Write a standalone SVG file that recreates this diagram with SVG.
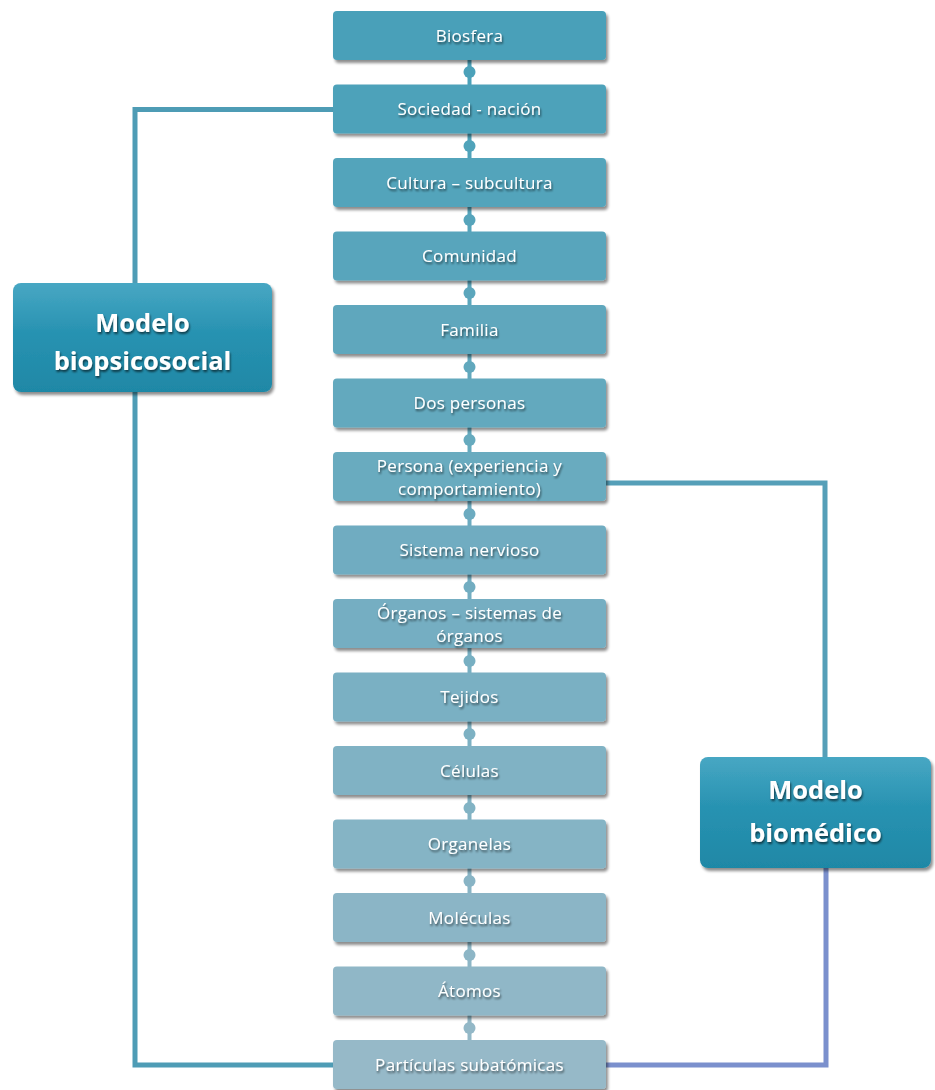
<svg xmlns="http://www.w3.org/2000/svg" width="935" height="1090" viewBox="0 0 935 1090">
<defs>
<filter id="shadow" x="-10%" y="-10%" width="125%" height="135%">
<feGaussianBlur in="SourceAlpha" stdDeviation="1.5"/>
<feOffset dx="1.5" dy="2.5" result="b"/>
<feComponentTransfer><feFuncA type="linear" slope="0.45"/></feComponentTransfer>
<feMerge><feMergeNode/><feMergeNode in="SourceGraphic"/></feMerge>
</filter>
<filter id="tshadow" x="-10%" y="-30%" width="120%" height="160%">
<feGaussianBlur in="SourceAlpha" stdDeviation="0.8"/>
<feOffset dx="1" dy="1.5"/>
<feComponentTransfer><feFuncA type="linear" slope="0.6"/></feComponentTransfer>
<feMerge><feMergeNode/><feMergeNode in="SourceGraphic"/></feMerge>
</filter>
<linearGradient id="modelGrad" x1="0" y1="0" x2="0" y2="1">
<stop offset="0" stop-color="#2f9bbb"/>
<stop offset="1" stop-color="#1f88a6"/>
</linearGradient>
<linearGradient id="gloss" x1="0" y1="0" x2="0" y2="1">
<stop offset="0" stop-color="#ffffff" stop-opacity="0.12"/>
<stop offset="1" stop-color="#ffffff" stop-opacity="0"/>
</linearGradient>
</defs>
<style>
.box{stroke:none;filter:url(#shadow);}
.lbl{font-family:"Open Sans","Liberation Sans",sans-serif;font-size:17px;letter-spacing:0.3px;fill:#ffffff;text-anchor:middle;filter:url(#tshadow);}
.mlbl{font-family:"Open Sans","Liberation Sans",sans-serif;font-weight:bold;font-size:25.5px;fill:#ffffff;text-anchor:middle;filter:url(#tshadow);}
.conn{fill:none;stroke-width:5;stroke-linejoin:miter;}
.dot{stroke-width:4;}
</style>
<rect width="935" height="1090" fill="#ffffff"/>

<g id="connectors">
<path class="conn" stroke="#4e9cb5" d="M335,109.5 H135 V285"/>
<path class="conn" stroke="#4e9cb5" d="M135,390 V1065 H335"/>
<path class="conn" stroke="#559fb8" d="M604,483 H825 V758"/>
<path class="conn" stroke="#7b90cd" d="M826,866 V1065 H604"/>
<g class="dot">
<line x1="469.5" y1="58" x2="469.5" y2="86" stroke="#4ba1b9"/><circle cx="469.5" cy="72" r="6" fill="#4ba1b9"/>
<line x1="469.5" y1="132" x2="469.5" y2="160" stroke="#50a3ba"/><circle cx="469.5" cy="146" r="6" fill="#50a3ba"/>
<line x1="469.5" y1="205" x2="469.5" y2="233" stroke="#56a4bb"/><circle cx="469.5" cy="220" r="6" fill="#56a4bb"/>
<line x1="469.5" y1="279" x2="469.5" y2="307" stroke="#5ba6bc"/><circle cx="469.5" cy="293" r="6" fill="#5ba6bc"/>
<line x1="469.5" y1="352" x2="469.5" y2="380" stroke="#61a8bd"/><circle cx="469.5" cy="367" r="6" fill="#61a8bd"/>
<line x1="469.5" y1="426" x2="469.5" y2="454" stroke="#66aabe"/><circle cx="469.5" cy="440" r="6" fill="#66aabe"/>
<line x1="469.5" y1="499" x2="469.5" y2="527" stroke="#6cabc0"/><circle cx="469.5" cy="514" r="6" fill="#6cabc0"/>
<line x1="469.5" y1="573" x2="469.5" y2="601" stroke="#72adc1"/><circle cx="469.5" cy="587" r="6" fill="#72adc1"/>
<line x1="469.5" y1="646" x2="469.5" y2="674" stroke="#77afc2"/><circle cx="469.5" cy="661" r="6" fill="#77afc2"/>
<line x1="469.5" y1="720" x2="469.5" y2="748" stroke="#7db1c3"/><circle cx="469.5" cy="734" r="6" fill="#7db1c3"/>
<line x1="469.5" y1="793" x2="469.5" y2="821" stroke="#82b3c4"/><circle cx="469.5" cy="808" r="6" fill="#82b3c4"/>
<line x1="469.5" y1="867" x2="469.5" y2="895" stroke="#88b4c5"/><circle cx="469.5" cy="881" r="6" fill="#88b4c5"/>
<line x1="469.5" y1="940" x2="469.5" y2="968" stroke="#8db6c6"/><circle cx="469.5" cy="955" r="6" fill="#8db6c6"/>
<line x1="469.5" y1="1014" x2="469.5" y2="1042" stroke="#93b8c7"/><circle cx="469.5" cy="1028" r="6" fill="#93b8c7"/>
</g>
</g>

<g id="n1"><rect class="box" x="333" y="11" width="273" height="49" rx="4" fill="#48a0b9"/><text class="lbl" x="469.5" y="41.5">Biosfera</text></g>
<g id="n2"><rect class="box" x="333" y="84.5" width="273" height="49" rx="4" fill="#4ea2ba"/><text class="lbl" x="469.5" y="115">Sociedad - nación</text></g>
<g id="n3"><rect class="box" x="333" y="158" width="273" height="49" rx="4" fill="#53a4bb"/><text class="lbl" x="469.5" y="188.5">Cultura – subcultura</text></g>
<g id="n4"><rect class="box" x="333" y="231.5" width="273" height="49" rx="4" fill="#59a5bc"/><text class="lbl" x="469.5" y="262">Comunidad</text></g>
<g id="n5"><rect class="box" x="333" y="305" width="273" height="49" rx="4" fill="#5ea7bd"/><text class="lbl" x="469.5" y="335.5">Familia</text></g>
<g id="n6"><rect class="box" x="333" y="378.5" width="273" height="49" rx="4" fill="#64a9be"/><text class="lbl" x="469.5" y="409">Dos personas</text></g>
<g id="n7"><rect class="box" x="333" y="452" width="273" height="49" rx="4" fill="#69abbf"/><text class="lbl" x="469.5" y="471.5">Persona (experiencia y</text><text class="lbl" x="469.5" y="494.5">comportamiento)</text></g>
<g id="n8"><rect class="box" x="333" y="525.5" width="273" height="49" rx="4" fill="#6facc1"/><text class="lbl" x="469.5" y="556">Sistema nervioso</text></g>
<g id="n9"><rect class="box" x="333" y="599" width="273" height="49" rx="4" fill="#75aec2"/><text class="lbl" x="469.5" y="618.5">Órganos – sistemas de</text><text class="lbl" x="469.5" y="641.5">órganos</text></g>
<g id="n10"><rect class="box" x="333" y="672.5" width="273" height="49" rx="4" fill="#7ab0c3"/><text class="lbl" x="469.5" y="703">Tejidos</text></g>
<g id="n11"><rect class="box" x="333" y="746" width="273" height="49" rx="4" fill="#80b2c4"/><text class="lbl" x="469.5" y="776.5">Células</text></g>
<g id="n12"><rect class="box" x="333" y="819.5" width="273" height="49" rx="4" fill="#85b4c5"/><text class="lbl" x="469.5" y="850">Organelas</text></g>
<g id="n13"><rect class="box" x="333" y="893" width="273" height="49" rx="4" fill="#8bb5c6"/><text class="lbl" x="469.5" y="923.5">Moléculas</text></g>
<g id="n14"><rect class="box" x="333" y="966.5" width="273" height="49" rx="4" fill="#90b7c7"/><text class="lbl" x="469.5" y="997">Átomos</text></g>
<g id="n15"><rect class="box" x="333" y="1040" width="273" height="49" rx="4" fill="#96b9c8"/><text class="lbl" x="469.5" y="1070.5">Partículas subatómicas</text></g>

<g id="biopsicosocial">
<rect class="box" x="13" y="283" width="259" height="109" rx="8" fill="url(#modelGrad)"/>
<rect x="13" y="283" width="259" height="50" rx="8" fill="url(#gloss)"/>
<text class="mlbl" x="142.5" y="332">Modelo</text>
<text class="mlbl" x="142.5" y="370">biopsicosocial</text>
</g>

<g id="biomedico">
<rect class="box" x="700" y="757" width="231" height="111" rx="8" fill="url(#modelGrad)"/>
<rect x="700" y="757" width="231" height="50" rx="8" fill="url(#gloss)"/>
<text class="mlbl" x="815.5" y="799">Modelo</text>
<text class="mlbl" x="815.5" y="842">biomédico</text>
</g>
</svg>
